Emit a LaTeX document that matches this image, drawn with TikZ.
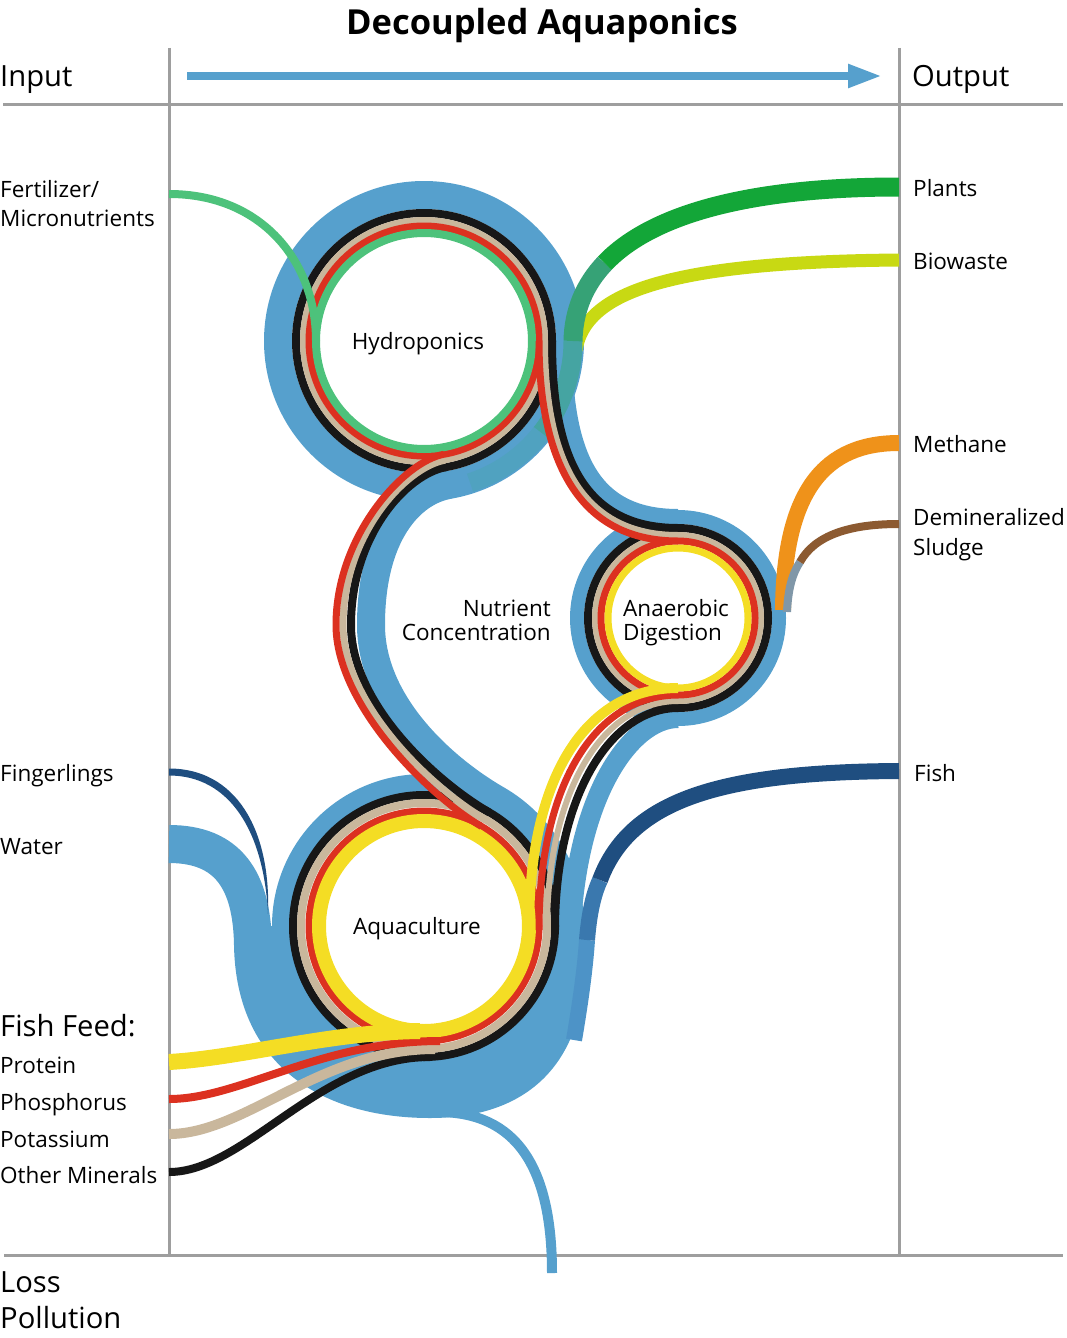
\documentclass[tikz,border=0pt]{standalone}
\usepackage{fontspec}
\setmainfont{Open Sans}
\usetikzlibrary{arrows.meta,calc}

\definecolor{frame}{HTML}{9E9E9E}
\definecolor{wat}{HTML}{56A0CD}
\definecolor{blk}{HTML}{171717}
\definecolor{potash}{HTML}{C9B79C}
\definecolor{phos}{HTML}{DC3120}
\definecolor{prot}{HTML}{F4DD24}
\definecolor{fert}{HTML}{4DC27B}
\definecolor{plant}{HTML}{13A638}
\definecolor{plantmid}{HTML}{36A276}
\definecolor{plantlow}{HTML}{45A4A2}
\definecolor{plantbase}{HTML}{50A2C0}
\definecolor{bio}{HTML}{C8D913}
\definecolor{meth}{HTML}{EF921A}
\definecolor{sludge}{HTML}{8C5A31}
\definecolor{sludgelow}{HTML}{8097A8}
\definecolor{fish}{HTML}{1F4E80}
\definecolor{fishmid}{HTML}{3A78AE}
\definecolor{fishlow}{HTML}{4D93C7}

\begin{document}
\begin{tikzpicture}[x=1pt,y=-1pt,
  lbl/.style={inner sep=0pt,font=\fontsize{22.5}{27}\selectfont},
  biglbl/.style={inner sep=0pt,font=\fontsize{29.2}{35}\selectfont},
  frameline/.style={frame,line width=3pt}]

\useasboundingbox (0,0) rectangle (1067,1338);

\coordinate (hydro) at (424,341);
\coordinate (anaer) at (678,618);
\coordinate (aqua) at (424,926);

% frame
\draw[frameline] (169,48) -- (169,1255);
\draw[frameline] (899,48) -- (899,1255);
\draw[frameline] (3,104) -- (1063,104);
\draw[frameline] (4,1255) -- (1063,1255);
\draw[wat, line width=8pt, -{Triangle[length=34pt,width=22pt]}] (187,76) -- (882,76);

% water
\draw[wat, line width=38pt] (169,844) .. controls (228,844) and (252,880) .. (253,945)
  .. controls (255,1060) and (340,1099) .. (430,1099)
  .. controls (525,1099) and (566,1045) .. (566,960);
\fill[wat] ($(aqua)+(140,0)$) arc[start angle=0, end angle=180, radius=140] -- (262,926)
  .. controls (262,1062) and (340,1100) .. (430,1100)
  .. controls (532,1100) and (584,1045) .. (584,926) -- cycle;
\draw[wat, line width=10pt] (440,1112) .. controls (515,1113) and (552,1165) .. (552,1273);
\draw[wat, line width=20pt] (aqua) circle (142);
\draw[wat, line width=28pt] (hydro) circle (146);
\draw[wat, line width=14pt] (anaer) circle (101);
\draw[wat, line width=28pt] ($(hydro)+(80:146)$) .. controls +(-39.4,7) and +(0,-90) .. (371,625)
  .. controls +(0,80) and +(-52,-30) .. ($(aqua)+(300:146)$)
  arc[start angle=300, end angle=360, radius=146];
\draw[wat, line width=16pt] ($(hydro)+(140,0)$) .. controls +(0,109) and +(-90,0) .. ($(anaer)+(0,-101)$);
\draw[wat, line width=20pt] ($(aqua)+(146,34)$) .. controls +(0,-160) and +(-48,0) .. ($(anaer)+(0,100)$);

% outputs
\draw[fishlow, line width=16pt] (574,1040) .. controls (580,1005) and (585,970) .. (587,940);
\draw[fishmid, line width=16pt] (587,940) .. controls (589,915) and (593,895) .. (600,880);
\draw[fish, line width=16pt] (600,880) .. controls (630,800) and (720,772) .. (899,771);
\draw[bio, line width=13pt] (576,350) .. controls (585,295) and (660,262) .. (899,260);
\draw[plantbase, line width=19pt] ($(hydro)+(72:149)$) arc[start angle=72, end angle=38, radius=149];
\draw[plantlow, line width=19pt] ($(hydro)+(38:149)$) arc[start angle=38, end angle=0, radius=149];
\draw[plantmid, line width=19pt] (573,341) .. controls (573.6,310.7) and (584.4,284.7) .. (604.8,263.2);
\draw[plant, line width=19pt] (604.8,263.2) .. controls (652.5,213) and (752.7,187) .. (899,187);
\draw[meth, line width=16pt] (783,610) .. controls (784,490) and (825,443) .. (899,443);
\draw[sludgelow, line width=8pt] (787,612) .. controls (788,590) and (792,574) .. (800,562);
\draw[sludge, line width=8pt] (800,562) .. controls (815,535) and (850,524) .. (899,524);

% rings
\foreach \col/\r/\w in {blk/128/8pt, potash/121/6pt, phos/115/7pt, fert/108/8pt}
  \draw[\col, line width=\w] (hydro) circle (\r);
\foreach \col/\r/\w in {blk/90/8pt, potash/83/6pt, phos/77/7pt, prot/70/7pt}
  \draw[\col, line width=\w] (anaer) circle (\r);
\foreach \col/\r/\w in {blk/131/8pt, potash/123/8pt, phos/115/7pt, prot/105/14pt}
  \draw[\col, line width=\w] (aqua) circle (\r);

% hydroponics -> aquaculture (nutrient concentration)
\foreach \col/\rh/\xm/\rq/\w in {blk/128/351/131/8pt, potash/121/343/123/7pt, phos/115/336/115/7pt}
  \draw[\col, line width=\w] ($(hydro)+(80:\rh)$) .. controls +(-39.4,7) and +(0,-90) .. (\xm,625)
    .. controls +(0,80) and +(-52,-30) .. ($(aqua)+(300:\rq)$);

% hydroponics -> anaerobic digestion
\foreach \col/\rh/\ra/\w in {blk/128/90/8pt, potash/121/83/6pt, phos/115/77/7pt}
  \draw[\col, line width=\w] ($(hydro)+(\rh,0)$) .. controls +(0,109) and +({-98-0.6*(128-\rh)},0) .. ($(anaer)+(0,-\ra)$);

% aquaculture -> anaerobic digestion
\foreach \col/\rq/\ra/\w in {blk/131/90/8pt, potash/123/83/6pt, phos/115/77/7pt, prot/105/70/10pt}
  \draw[\col, line width=\w] ($(aqua)+(\rq,4)$) .. controls +(0,{-160+(\rq-105)}) and +({-88+0.8*(\rq-105)},0) .. ($(anaer)+(0,\ra)$);

% inputs
\draw[fert, line width=8pt] (169,194) .. controls (262,194) and (316,262) .. (316,341);
\fill[fish] (169,768.5) .. controls (235,768.5) and (271,828) .. (268,914)
  .. controls (264,832) and (230,775.5) .. (169,775.5) -- cycle;
\draw[blk, line width=8pt] (169,1172) .. controls (245,1172) and (320,1057) .. (430,1057);
\draw[potash, line width=10pt] (169,1134) .. controls (245,1134) and (320,1049) .. (435,1049);
\draw[phos, line width=8pt] (169,1099) .. controls (240,1099) and (320,1041) .. (440,1041);
\draw[prot, line width=16pt] (169,1062) .. controls (240,1058) and (330,1032) .. (420,1031);

% labels
\node[inner sep=0pt, font=\fontsize{34.5}{40}\selectfont\bfseries, anchor=base] (title) at (542,35) {Decoupled Aquaponics};
\node[biglbl, anchor=base west] (input) at (0,86) {Input};
\node[biglbl, anchor=base west] (output) at (912,86) {Output};
\node[lbl, anchor=base west] (fertA) at (0,197) {Fertilizer/};
\node[lbl, anchor=base west] (fertB) at (0,226) {Micronutrients};
\node[lbl, anchor=base west] (finger) at (0,781) {Fingerlings};
\node[lbl, anchor=base west] (water) at (0,854) {Water};
\node[biglbl, anchor=base west] (feed) at (0,1036) {Fish Feed:};
\node[lbl, anchor=base west] (protein) at (0,1073) {Protein};
\node[lbl, anchor=base west] (phosphorus) at (0,1110) {Phosphorus};
\node[lbl, anchor=base west] (potassium) at (0,1147) {Potassium};
\node[lbl, anchor=base west] (minerals) at (0,1183) {Other Minerals};
\node[biglbl, anchor=base west] (loss) at (0,1292) {Loss};
\node[biglbl, anchor=base west] (pollution) at (0,1328) {Pollution};
\node[lbl, anchor=base west] (plants) at (913,196) {Plants};
\node[lbl, anchor=base west] (biowaste) at (913,269) {Biowaste};
\node[lbl, anchor=base west] (methane) at (913,452) {Methane};
\node[lbl, anchor=base west] (demin) at (913,525) {Demineralized};
\node[lbl, anchor=base west] (sludgetxt) at (913,555) {Sludge};
\node[lbl, anchor=base west] (fishtxt) at (914,781) {Fish};
\node[lbl, anchor=base] (hydrotxt) at (418,349) {Hydroponics};
\node[lbl, anchor=base east] (nutrA) at (551,616) {Nutrient};
\node[lbl, anchor=base east] (nutrB) at (551,640) {Concentration};
\node[lbl, anchor=base west] (anaerA) at (623,616) {Anaerobic};
\node[lbl, anchor=base west] (anaerB) at (623,640) {Digestion};
\node[lbl, anchor=base] (aquatxt) at (417,934) {Aquaculture};

\end{tikzpicture}
\end{document}
